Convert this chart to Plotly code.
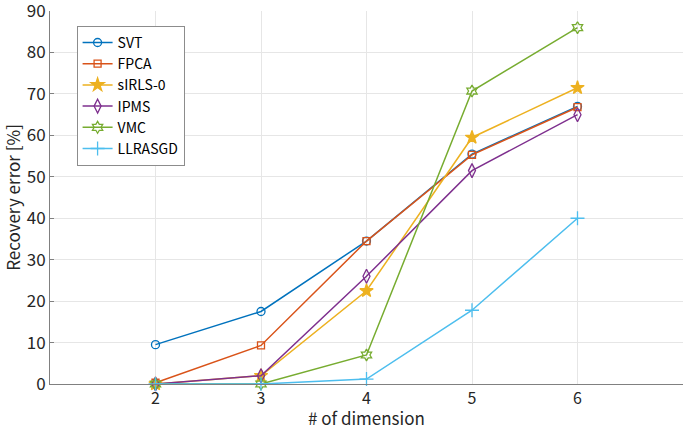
import plotly.graph_objects as go

dims = [2, 3, 4, 5, 6]
svt = [9.5, 17.5, 34.5, 55.5, 67.0]
fpca = [0.3, 9.3, 34.5, 55.3, 66.8]
sirls0 = [0.0, 2.0, 22.5, 59.5, 71.5]
ipms = [0.0, 2.0, 26.0, 51.5, 65.0]
vmc = [0.0, 0.0, 7.0, 70.7, 86.0]
llrasgd = [0.0, 0.0, 1.2, 17.8, 40.0]

series = [
    ("SVT", svt, "#0072BD", "circle-open", 8),
    ("FPCA", fpca, "#D95319", "square-open", 7),
    ("sIRLS-0", sirls0, "#EDB120", "star", 10),
    ("IPMS", ipms, "#7E2F8E", "diamond-tall-open", 10),
    ("VMC", vmc, "#77AC30", "hexagram-open", 9),
    ("LLRASGD", llrasgd, "#4DBEEE", "cross-thin-open", 10),
]

fig = go.Figure()
for name, ys, color, sym, size in series:
    fig.add_trace(go.Scatter(
        x=dims, y=ys, name=name, mode="lines+markers",
        line=dict(color=color, width=1.5),
        marker=dict(symbol=sym, size=size, color=color, line=dict(color=color, width=1.3)),
        cliponaxis=False,
    ))

font = "Noto Sans CJK JP, sans-serif"
fig.update_layout(
    width=685, height=428,
    margin=dict(l=50, r=2, t=11, b=44, autoexpand=False),
    paper_bgcolor="white", plot_bgcolor="white",
    font=dict(family=font, size=17, color="#262626"),
    showlegend=True,
    legend=dict(x=0.042, y=0.96, xanchor="left", yanchor="top",
                bgcolor="white", bordercolor="#8c8c8c", borderwidth=1,
                font=dict(size=14, color="#000"), tracegroupgap=0,
                itemwidth=30),
    xaxis=dict(range=[1, 7], tickvals=dims, ticktext=[str(d) for d in dims],
               tickfont=dict(size=16),
               showgrid=True, gridcolor="#e6e6e6", gridwidth=1,
               showline=True, linecolor="#808080", linewidth=1,
               ticks="", zeroline=False, automargin=False),
    yaxis=dict(range=[0, 90.02], tickvals=list(range(0, 91, 10)),
               showgrid=True, gridcolor="#e6e6e6", gridwidth=1,
               showline=True, linecolor="#808080", linewidth=1,
               ticks="inside", ticklen=4, tickcolor="#808080", zeroline=False,
               automargin=False, ticklabeloverflow="allow",
               title=dict(text="Recovery error [%]", standoff=2, font=dict(size=17))),
    annotations=[dict(text="# of dimension", xref="paper", yref="paper",
                      x=0.5, y=-0.089, xanchor="center", yanchor="middle",
                      showarrow=False, font=dict(size=17, color="#262626"))],
)

fig.write_html("out.html", config={"displayModeBar": False},
               post_script="document.body.style.margin='0';document.body.style.overflow='hidden';")
